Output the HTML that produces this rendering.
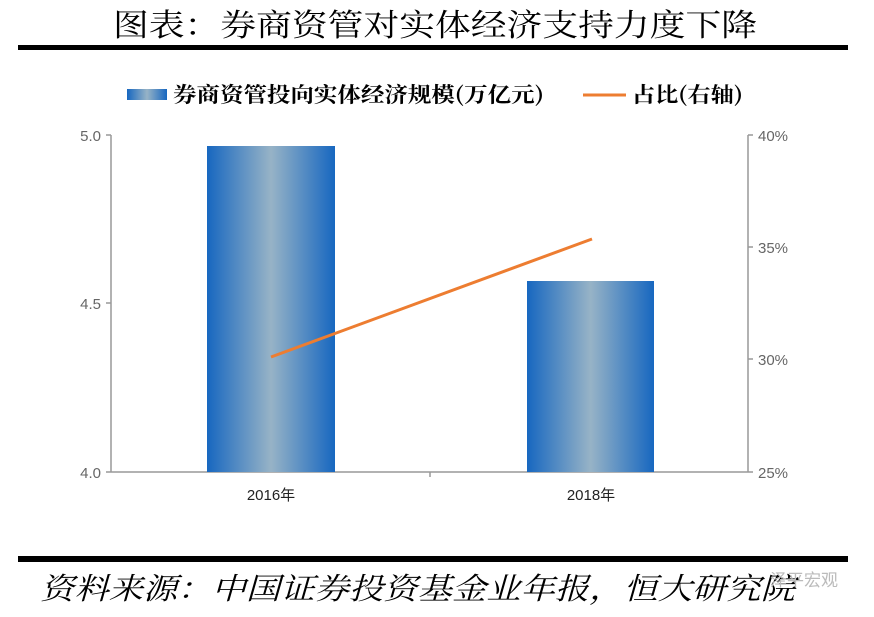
<!DOCTYPE html>
<html><head><meta charset="utf-8"><style>body{margin:0;background:#fff}svg{display:block}</style></head><body>
<svg width="874" height="617" xmlns="http://www.w3.org/2000/svg">
<defs><linearGradient id="g" x1="0" x2="1" y1="0" y2="0">
<stop offset="0" stop-color="#1767c0"/><stop offset="0.5" stop-color="#97b3c6"/><stop offset="1" stop-color="#1767c0"/></linearGradient></defs>
<text x="113" y="36" textLength="644" lengthAdjust="spacingAndGlyphs" font-family="Noto Serif CJK SC, serif" font-size="31" fill="#000">图表：券商资管对实体经济支持力度下降</text>
<rect x="18" y="45" width="830" height="5" fill="#000"/>
<rect x="127" y="89" width="40" height="11" fill="url(#g)"/>
<text x="173" y="102" textLength="371" lengthAdjust="spacingAndGlyphs" font-family="Noto Serif CJK SC, serif" font-size="21" font-weight="bold" fill="#000">券商资管投向实体经济规模(万亿元)</text>
<line x1="583" y1="95" x2="626" y2="95" stroke="#ed7d31" stroke-width="3"/>
<text x="632" y="102" textLength="111" lengthAdjust="spacingAndGlyphs" font-family="Noto Serif CJK SC, serif" font-size="21" font-weight="bold" fill="#000">占比(右轴)</text>
<g stroke="#999" stroke-width="1.5" fill="none">
<line x1="111" y1="135" x2="111" y2="472"/>
<line x1="106" y1="135" x2="111" y2="135"/><line x1="106" y1="303" x2="111" y2="303"/><line x1="106" y1="472" x2="111" y2="472"/>
<line x1="748" y1="135" x2="748" y2="472"/>
<line x1="748" y1="135" x2="753" y2="135"/><line x1="748" y1="247" x2="753" y2="247"/><line x1="748" y1="359" x2="753" y2="359"/><line x1="748" y1="472" x2="753" y2="472"/>
<line x1="111" y1="472" x2="748" y2="472"/>
<line x1="430" y1="472" x2="430" y2="477"/>
</g>
<g font-family="Liberation Sans, sans-serif" font-size="15" fill="#666">
<text x="101" y="141" text-anchor="end">5.0</text><text x="101" y="309" text-anchor="end">4.5</text><text x="101" y="478" text-anchor="end">4.0</text>
<text x="758" y="141">40%</text><text x="758" y="253">35%</text><text x="758" y="365">30%</text><text x="758" y="478">25%</text>
</g>
<rect x="207" y="146" width="128" height="326" fill="url(#g)"/>
<rect x="527" y="281" width="127" height="191" fill="url(#g)"/>
<line x1="271" y1="357" x2="592" y2="239" stroke="#ed7d31" stroke-width="3"/>
<g font-family="Liberation Sans, Noto Sans CJK SC, sans-serif" font-size="15" fill="#222" text-anchor="middle">
<text x="271" y="500">2016年</text><text x="591" y="500">2018年</text></g>
<rect x="18" y="556" width="830" height="6" fill="#000"/>
<text x="40" y="599" textLength="755" lengthAdjust="spacingAndGlyphs" font-family="Noto Serif CJK SC, serif" font-size="30" font-style="italic" fill="#000">资料来源：中国证券投资基金业年报，恒大研究院</text>
<text x="770" y="586" font-family="Noto Sans CJK SC, sans-serif" font-size="17" fill="#bbb">泽平宏观</text>
</svg>
</body></html>
